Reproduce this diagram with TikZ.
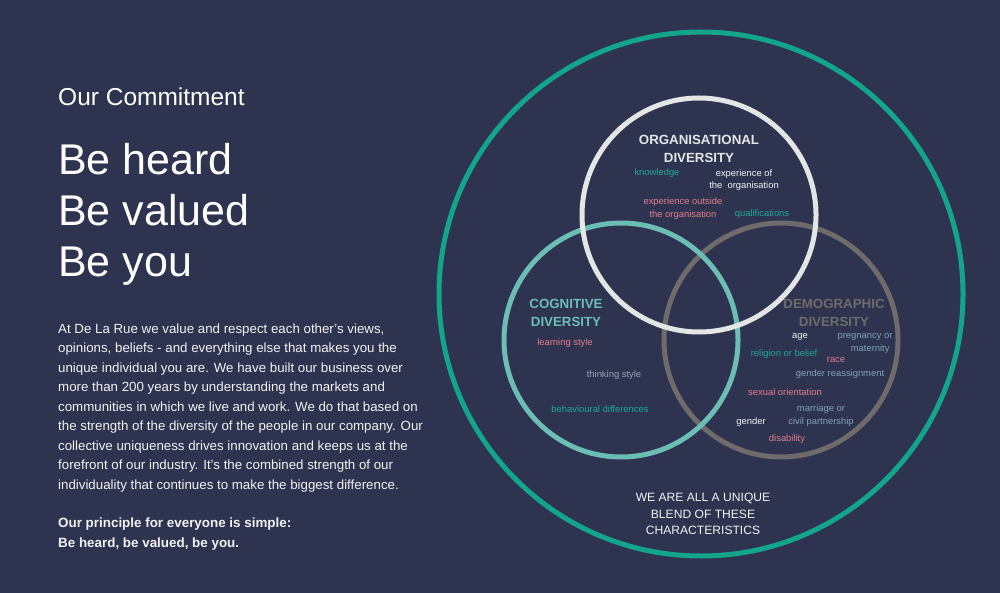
\documentclass[tikz,border=0pt]{standalone}
\usepackage{fontspec}
\setmainfont{Liberation Sans}
\definecolor{bgnavy}{HTML}{2E3350}
\definecolor{outerteal}{HTML}{12A58A}
\definecolor{orgwhite}{HTML}{E4E6E6}
\definecolor{cogteal}{HTML}{6CBDB4}
\definecolor{demgray}{HTML}{6E6B6A}
\definecolor{txteal}{HTML}{1FA896}
\definecolor{txpink}{HTML}{E17E8C}
\definecolor{txblue}{HTML}{7FA3B8}
\definecolor{txgray}{HTML}{9AA3B0}
\definecolor{txwhite}{HTML}{F2F2F2}
\tikzset{
  ring/.style={line width=5pt},
  small/.style={font=\fontsize{9.4}{12.5}\selectfont, align=center, inner sep=0pt},
  head/.style={font=\fontsize{13.3}{18}\selectfont\bfseries, align=center, inner sep=0pt},
  bodyline/.style={anchor=base west, inner sep=0pt, text=txwhite, font=\fontsize{13.3}{19}\selectfont},
  bigline/.style={anchor=base west, inner sep=0pt, text=white, font=\fontsize{43}{51}\selectfont},
}
\begin{document}
\begin{tikzpicture}[x=1pt,y=-1pt]
\fill[bgnavy] (0,0) rectangle (1000,593);
\useasboundingbox (0,0) rectangle (1000,593);

% circles
\draw[ring, outerteal] (701,294) circle[radius=262];
\draw[ring, demgray] (781,340) circle[radius=117];
\draw[ring, cogteal] (621,340) circle[radius=117];
\draw[ring, orgwhite] (699,215) circle[radius=117];

% left text
\node[anchor=base west, inner sep=0pt, text=white, font=\fontsize{24.5}{28}\selectfont] (title) at (58,106) {Our Commitment};
\node[bigline] (l1) at (58,175) {Be heard};
\node[bigline] (l2) at (58,226) {Be valued};
\node[bigline] (l3) at (58,277) {Be you};

\foreach \t [count=\i from 0] in {
  {At De La Rue we value and respect each other's views,},
  {opinions, beliefs - and everything else that makes you the},
  {unique individual you are. We have built our business over},
  {more than 200 years by understanding the markets and},
  {communities in which we live and work. We do that based on},
  {the strength of the diversity of the people in our company. Our},
  {collective uniqueness drives innovation and keeps us at the},
  {forefront of our industry. It's the combined strength of our},
  {individuality that continues to make the biggest difference.}}
  {\node[bodyline] (p\i) at (58,333+19.5*\i) {\t};}
\node[bodyline, font=\fontsize{13.4}{19}\selectfont\bfseries] (b1) at (58,527) {Our principle for everyone is simple:};
\node[bodyline, font=\fontsize{13.4}{19}\selectfont\bfseries] (b2) at (58,547) {Be heard, be valued, be you.};

% organisational
\node[head, text=orgwhite] (orgh) at (699,148.5) {ORGANISATIONAL\\DIVERSITY};
\node[small, text=txteal] (knowledge) at (657,173) {knowledge};
\node[small, text=txwhite] (expof) at (744,180) {experience of\\the\ \ organisation};
\node[small, text=txpink] (expout) at (683,208.5) {experience outside\\the organisation};
\node[small, text=txteal] (qual) at (762,214) {qualifications};

% cognitive
\node[head, text=cogteal] (cogh) at (566,312.5) {COGNITIVE\\DIVERSITY};
\node[small, text=txpink] (learn) at (565,343) {learning style};
\node[small, text=txgray] (think) at (614,375) {thinking style};
\node[small, text=txteal] (behav) at (600,409) {behavioural differences};

% demographic
\node[head, text=demgray] (demh) at (834,312.5) {DEMOGRAPHIC\\DIVERSITY};
\node[small, text=txwhite] (age) at (800,337) {age};
\node[small, text=txblue] (preg) at (865,343.5) {pregnancy or\\\ \ \ \ maternity};
\node[small, text=txteal] (relig) at (784,354) {religion or belief};
\node[small, text=txpink] (race) at (836,360) {race};
\node[small, text=txblue] (reass) at (840,374) {gender reassignment};
\node[small, text=txpink] (sexor) at (785,392) {sexual orientation};
\node[small, text=txblue] (marr) at (821,415.5) {marriage or\\civil partnership};
\node[small, text=txwhite] (gender) at (751,422) {gender};
\node[small, text=txpink] (disab) at (787,439) {disability};

% bottom
\node[font=\fontsize{12.1}{16.5}\selectfont, align=center, inner sep=0pt, text=txwhite] (unique) at (703,514) {WE ARE ALL A UNIQUE\\BLEND OF THESE\\CHARACTERISTICS};
\end{tikzpicture}
\end{document}
